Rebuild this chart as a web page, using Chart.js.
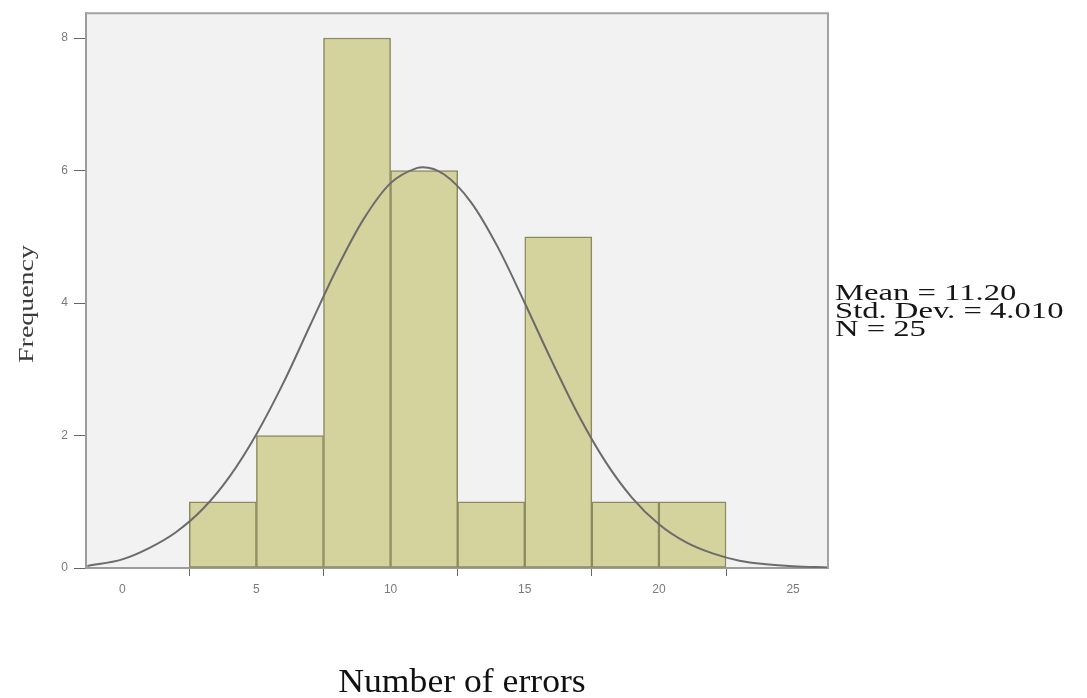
<!DOCTYPE html>
<html><head><meta charset="utf-8">
<script src="https://cdn.jsdelivr.net/npm/chart.js@4/dist/chart.umd.min.js"></script>
<style>html,body{margin:0;padding:0;background:#fff;}#wrap{position:relative;width:1087px;height:698px;}</style>
</head><body><div id="wrap"><canvas id="c" width="1087" height="698"></canvas></div>
<script>
// Histogram bins (width 2.5) and counts
const binCenters = [3.75, 6.25, 8.75, 11.25, 13.75, 16.25, 18.75, 21.25];
const frequencies = [1, 2, 8, 6, 1, 5, 1, 1];
// Normal curve
const curveX = [-1.3, 0, 1, 2, 3, 4, 5, 6, 7, 8, 9, 10, 11, 11.2, 12, 13, 14, 15, 16, 17, 18, 19, 20, 21, 22, 23, 24, 25, 26.3];
const curveY = [0.03, 0.13, 0.3, 0.54, 0.89, 1.38, 2.02, 2.79, 3.66, 4.52, 5.27, 5.81, 6.04, 6.05, 5.94, 5.52, 4.84, 4.00, 3.13, 2.31, 1.61, 1.06, 0.66, 0.39, 0.22, 0.11, 0.056, 0.026, 0.008];
const xTicks = [0, 5, 10, 15, 20, 25];
const yTicks = [0, 2, 4, 6, 8];
const statsLines = ['Mean = 11.20', 'Std. Dev. = 4.010', 'N = 25'];
const xTitle = 'Number of errors';
const yTitle = 'Frequency';

const barData = binCenters.map((x, i) => ({x: x, y: frequencies[i]}));
const curveData = curveX.map((x, i) => ({x: x, y: curveY[i]}));

const decor = {
  id: 'decor',
  beforeDraw(chart) {
    const a = chart.chartArea, ctx = chart.ctx;
    ctx.save();
    ctx.fillStyle = '#f2f2f2';
    ctx.fillRect(a.left, a.top, a.right - a.left, a.bottom - a.top);
    ctx.restore();
  },
  afterDraw(chart) {
    const a = chart.chartArea, ctx = chart.ctx;
    ctx.save();
    ctx.strokeStyle = '#a3a3a3';
    ctx.lineWidth = 2;
    ctx.beginPath();
    ctx.moveTo(a.left, a.top);
    ctx.lineTo(a.right, a.top);
    ctx.lineTo(a.right, a.bottom);
    ctx.stroke();
    // stats text
    ctx.fillStyle = '#151515';
    ctx.font = '24px "Liberation Serif"';
    ctx.textBaseline = 'alphabetic';
    ctx.textAlign = 'left';
    const base = [300, 318, 336];
    statsLines.forEach((t, i) => {
      ctx.save();
      ctx.translate(835, base[i]);
      ctx.scale(1.36, 1);
      ctx.fillText(t, 0, 0);
      ctx.restore();
    });
    // x title
    ctx.save();
    ctx.font = '33px "Liberation Serif"';
    ctx.fillStyle = '#111';
    ctx.textAlign = 'center';
    ctx.translate(462, 692);
    ctx.scale(1.08, 1);
    ctx.fillText(xTitle, 0, 0);
    ctx.restore();
    // y title
    ctx.save();
    ctx.font = '21px "Liberation Serif"';
    ctx.fillStyle = '#3a3a3a';
    ctx.textAlign = 'center';
    ctx.textBaseline = 'middle';
    ctx.translate(27, 304);
    ctx.rotate(-Math.PI / 2);
    ctx.scale(1.33, 1);
    ctx.fillText(yTitle, 0, 0);
    ctx.restore();
    ctx.restore();
  }
};

new Chart(document.getElementById('c'), {
  type: 'bar',
  data: {
    datasets: [
      {type: 'line', data: curveData, borderColor: '#6b6b6b', borderWidth: 2, pointRadius: 0,
       cubicInterpolationMode: 'monotone', fill: false, order: 0},
      {type: 'bar', data: barData, backgroundColor: '#d5d39d', borderColor: '#8c8a60', borderWidth: 1.5,
       borderSkipped: false, barPercentage: 1, categoryPercentage: 1, order: 1}
    ]
  },
  options: {
    responsive: false,
    animation: false,
    layout: {padding: {left: 0, top: 10, right: 259, bottom: 0}},
    plugins: {legend: {display: false}, tooltip: {enabled: false}},
    scales: {
      x: {
        type: 'linear', min: -1.35, max: 26.3, offset: false,
        afterBuildTicks: s => { s.ticks = xTicks.map(v => ({value: v})); },
        afterFit: s => { s.height = 130; },
        grid: {drawOnChartArea: false, drawTicks: true, tickLength: 8, color: '#666', lineWidth: 1},
        border: {display: true, color: '#9c9c9c', width: 2},
        ticks: {font: {family: 'Liberation Sans', size: 12}, color: '#7a7a7a', padding: 6, maxRotation: 0, autoSkip: false}
      },
      y: {
        type: 'linear', min: 0, max: 8.375,
        afterBuildTicks: s => { s.ticks = yTicks.map(v => ({value: v})); },
        afterFit: s => { s.width = 86; },
        grid: {drawOnChartArea: false, drawTicks: true, tickLength: 12, color: '#666', lineWidth: 1},
        border: {display: true, color: '#9c9c9c', width: 2},
        ticks: {font: {family: 'Liberation Sans', size: 12}, color: '#7a7a7a', padding: 6, autoSkip: false}
      }
    }
  },
  plugins: [decor]
});
</script></body></html>
